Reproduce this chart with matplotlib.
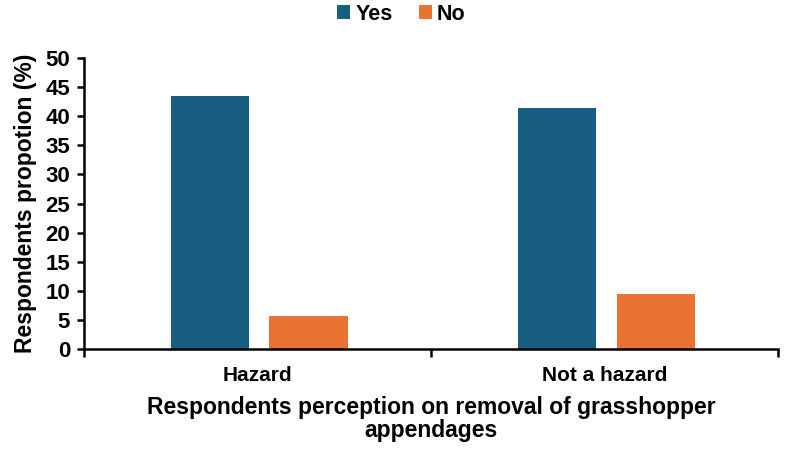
import numpy as np
import matplotlib.pyplot as plt

plt.rcParams['font.family'] = ['Liberation Sans', 'DejaVu Sans']
plt.rcParams['font.weight'] = 'bold'

categories = ["Hazard", "Not a hazard"]
yes_vals = [43.4, 41.5]
no_vals = [5.6, 9.4]

fig = plt.figure(figsize=(7.87, 4.49), dpi=100)
ax = fig.add_axes([0.1067, 0.2227, 0.882, 0.648])

x = np.arange(len(categories))
w = 0.225
ax.bar(x - 0.138, yes_vals, w, color="#185e80", label="Yes")
ax.bar(x + 0.147, no_vals, w, color="#e97333", label="No")

ax.set_xlim(-0.5, 1.5)
ax.set_ylim(0, 50)
ax.set_yticks(np.arange(0, 51, 5))
ax.set_xticks([-0.5, 0.5, 1.5])
ax.set_xticklabels([])
ax.set_xticks(x, minor=True)
ax.set_xticklabels(categories, minor=True)
ax.tick_params(axis="x", which="minor", length=0, pad=12, labelsize=15)
ax.tick_params(axis="x", which="major", length=6, width=1.8)
ax.tick_params(axis="y", length=5, width=1.8, labelsize=16, pad=5)
for s in ["top", "right"]:
    ax.spines[s].set_visible(False)
for s in ["left", "bottom"]:
    ax.spines[s].set_linewidth(1.8)

ax.set_ylabel("Respondents propotion (%)", fontsize=16.5, fontweight="bold", labelpad=6)
ax.set_xlabel("Respondents perception on removal of grasshopper\nappendages",
              fontsize=16.5, fontweight="bold", labelpad=8, linespacing=1.0)

fig.legend(loc="upper center", bbox_to_anchor=(0.51, 1.035), ncol=2, frameon=False,
           fontsize=15.5, handlelength=0.6, handleheight=0.6, handletextpad=0.25,
           columnspacing=1.2)

fig.savefig("out.png", dpi=100)
